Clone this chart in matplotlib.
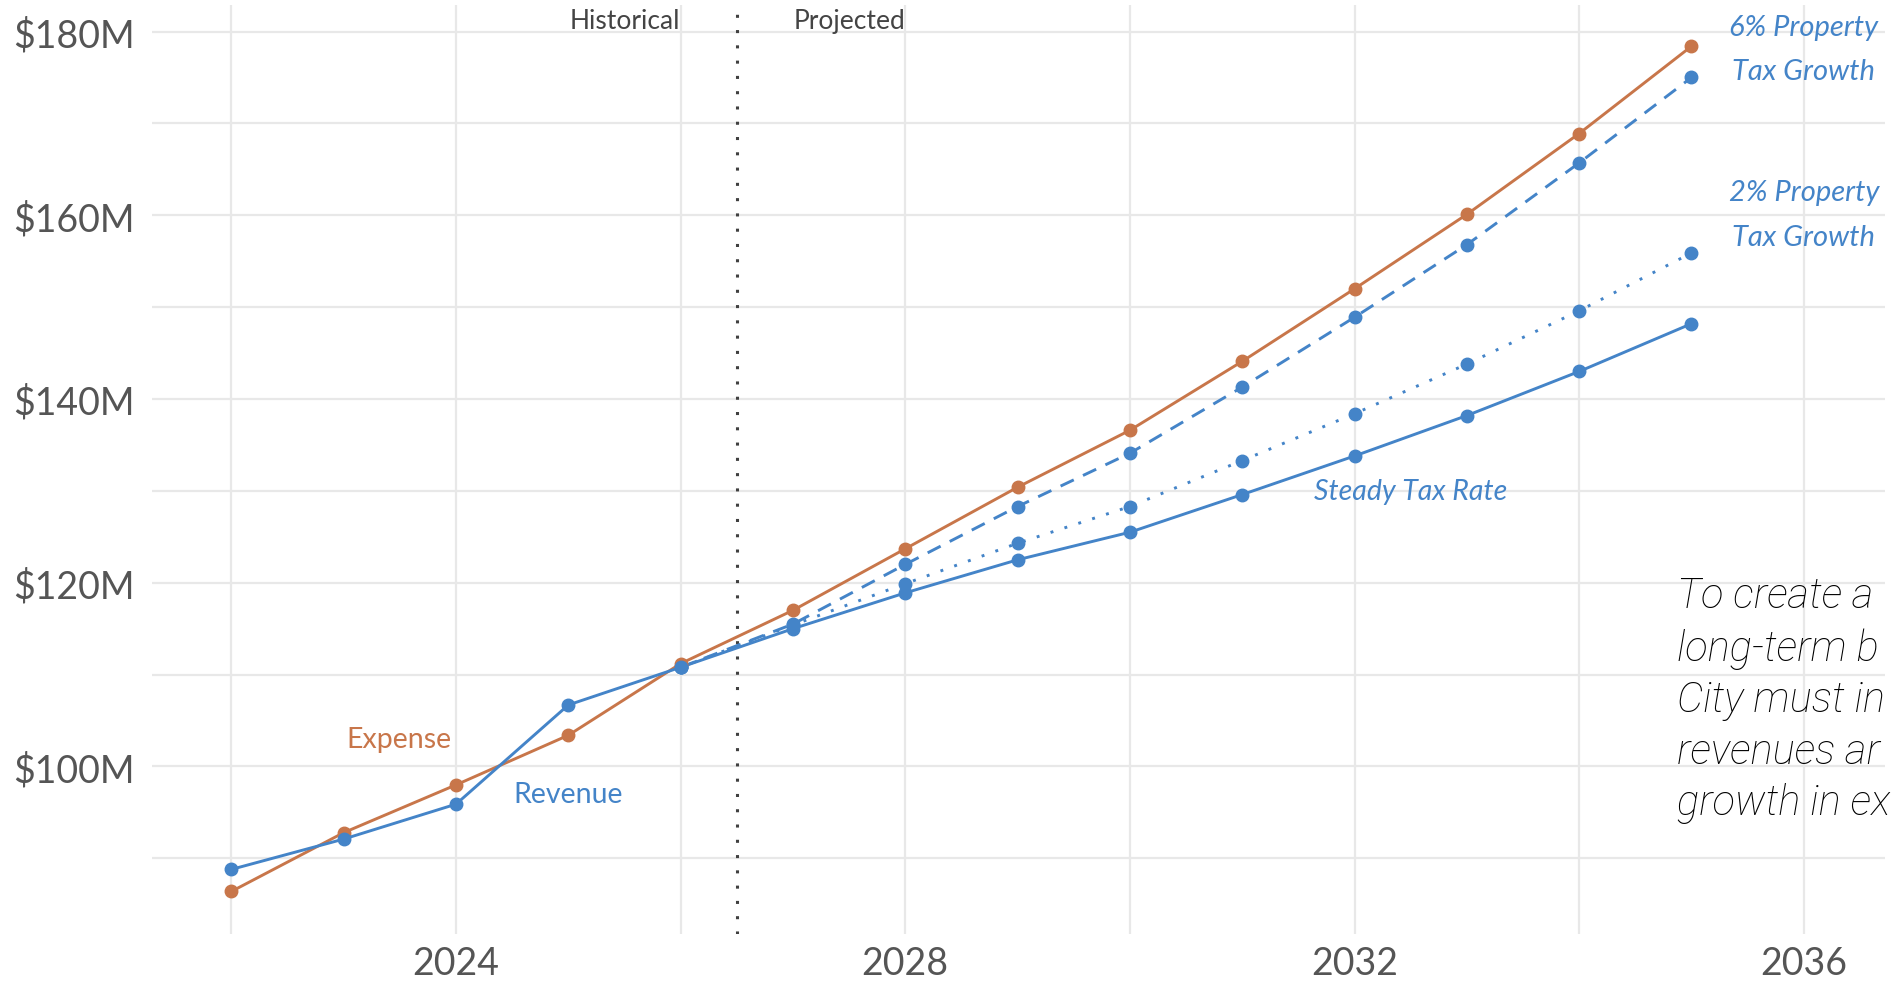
import matplotlib.pyplot as plt
from matplotlib.ticker import MultipleLocator, FuncFormatter

plt.rcParams['font.family'] = ['Lato', 'DejaVu Sans']

ORANGE = '#C8764A'
BLUE = '#4484C8'

# historical (2022-2026)
hist_years = [2022, 2023, 2024, 2025, 2026]
hist_revenue = [88.8, 92.1, 95.9, 106.7, 110.8]

# expense runs through the whole span
exp_years = list(range(2022, 2036))
expense = [86.4, 92.8, 98.0, 103.4, 111.2, 117.0, 123.7, 130.4, 136.6,
           144.1, 152.0, 160.1, 168.9, 178.4]

# projected revenue scenarios (start from the 2026 actual)
proj_years = list(range(2026, 2036))
steady_rate = [110.8, 115.0, 118.9, 122.5, 125.5, 129.6, 133.8, 138.2, 143.0, 148.2]
growth_2pct = [110.8, 115.4, 119.9, 124.3, 128.3, 133.3, 138.4, 143.8, 149.6, 155.9]
growth_6pct = [110.8, 115.5, 122.0, 128.3, 134.1, 141.3, 148.9, 156.8, 165.7, 175.0]

note_lines = ['To create a', 'long-term b', 'City must in', 'revenues ar', 'growth in ex']

fig = plt.figure(figsize=(18.96, 9.87), dpi=100)
ax = fig.add_axes([0.080, 0.053, 0.914, 0.941])

LW, MS = 2.1, 9
ax.plot(exp_years, expense, color=ORANGE, lw=LW, marker='o', ms=MS, zorder=4)
ax.plot(proj_years, growth_6pct, color=BLUE, lw=LW, ls=(0, (5, 3.5)), marker='o', ms=MS, zorder=3)
ax.plot(proj_years, growth_2pct, color=BLUE, lw=LW, ls=(0, (1, 4)), marker='o', ms=MS, zorder=3)
ax.plot(proj_years, steady_rate, color=BLUE, lw=LW, marker='o', ms=MS, zorder=3)
ax.plot(hist_years, hist_revenue, color=BLUE, lw=LW, marker='o', ms=MS, zorder=5)

# historical / projected divider
ax.axvline(2026.5, color='#404040', lw=2.2, ls=(0, (1, 4)), zorder=2)

ax.set_xlim(2021.29, 2036.72)
ax.set_ylim(81.8, 182.9)

ax.xaxis.set_major_locator(MultipleLocator(4))
ax.xaxis.set_minor_locator(MultipleLocator(2))
ax.yaxis.set_major_locator(MultipleLocator(20))
ax.yaxis.set_minor_locator(MultipleLocator(10))
ax.yaxis.set_major_formatter(FuncFormatter(lambda v, p: f'${v:.0f}M'))
ax.grid(which='both', color='#E8E8E8', lw=1.6, zorder=0)
ax.set_axisbelow(True)
ax.tick_params(which='both', length=0, labelsize=27, colors='#555555')
ax.tick_params(axis='y', pad=12)
ax.tick_params(axis='x', pad=8)
for s in ax.spines.values():
    s.set_visible(False)

ax.text(2025.5, 181.2, 'Historical', ha='center', va='center', fontsize=19, color='#444444')
ax.text(2027.5, 181.2, 'Projected', ha='center', va='center', fontsize=19, color='#444444')
ax.text(2023.49, 103.0, 'Expense', ha='center', va='center', fontsize=20.5, color=ORANGE)
ax.text(2025.0, 97.0, 'Revenue', ha='center', va='center', fontsize=20.5, color=BLUE)
ax.text(2032.5, 130.0, 'Steady Tax Rate', ha='center', va='center', fontsize=20.5,
        color=BLUE, style='italic')
for label, yv in [('6% Property', 180.5), ('Tax Growth', 175.7),
                  ('2% Property', 162.5), ('Tax Growth', 157.6)]:
    ax.text(2036.0, yv, label, ha='center', va='center', fontsize=21,
            color=BLUE, style='italic')

ys = [597, 649, 701, 753, 804]
for line, y in zip(note_lines, ys):
    fig.text(1677 / 1896, 1 - y / 987, line, ha='left', va='center', fontsize=30,
             family=['Roboto', 'DejaVu Sans'], style='italic', fontweight='light',
             color='#000000')

fig.savefig('out.png', dpi=100)
